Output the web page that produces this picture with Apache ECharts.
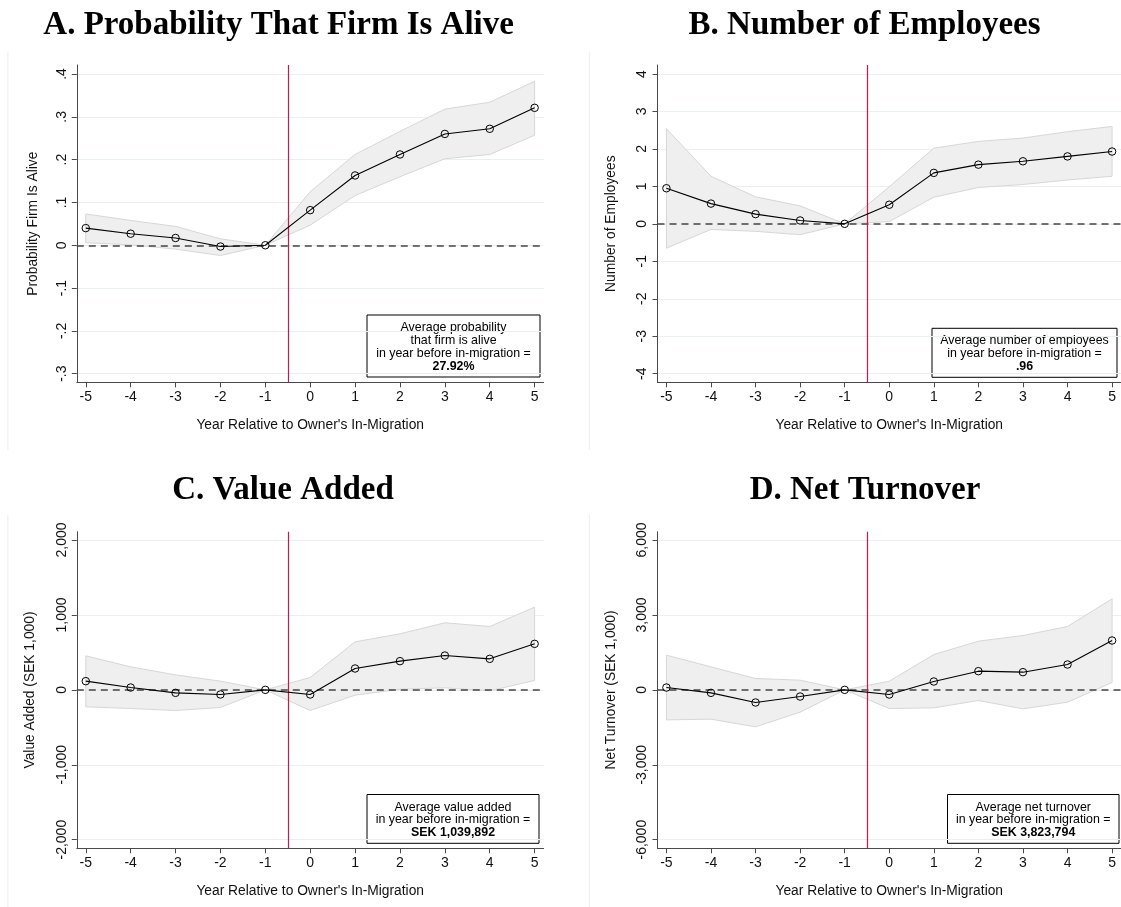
<!DOCTYPE html>
<html><head><meta charset="utf-8">
<script src="https://cdn.jsdelivr.net/npm/echarts@6/dist/echarts.min.js"></script>
<style>html,body{margin:0;padding:0;background:#fff}#c{width:1121px;height:907px}</style>
</head><body><div id="c"></div>
<script>
// ---------- data ----------
const years = [-5, -4, -3, -2, -1, 0, 1, 2, 3, 4, 5];
const xTickLabels = ['-5', '-4', '-3', '-2', '-1', '0', '1', '2', '3', '4', '5'];

const aliveEst = [0.040, 0.027, 0.017, -0.003, 0, 0.082, 0.163, 0.212, 0.260, 0.272, 0.321];
const aliveLo  = [0.006, 0.001, -0.009, -0.024, 0, 0.047, 0.116, 0.160, 0.202, 0.212, 0.257];
const aliveHi  = [0.073, 0.058, 0.044, 0.015, 0, 0.125, 0.212, 0.266, 0.318, 0.334, 0.383];

const empEst = [0.95, 0.54, 0.26, 0.09, 0, 0.51, 1.36, 1.58, 1.67, 1.80, 1.93];
const empLo  = [-0.65, -0.15, -0.20, -0.29, 0, 0.06, 0.71, 0.97, 1.05, 1.17, 1.27];
const empHi  = [2.54, 1.27, 0.72, 0.48, 0, 0.99, 2.02, 2.20, 2.29, 2.46, 2.60];

const vaEst = [116, 31, -40, -62, 0, -62, 285, 383, 458, 414, 614];
const vaLo  = [-227, -249, -276, -236, 0, -276, -71, 9, 27, -13, 125];
const vaHi  = [454, 307, 200, 116, 0, 165, 641, 748, 895, 846, 1104];

const ntEst = [93, -120, -507, -267, 0, -187, 334, 748, 708, 1015, 1976];
const ntLo  = [-1202, -1175, -1482, -895, 0, -748, -721, -427, -761, -494, 294];
const ntHi  = [1389, 921, 454, 387, 0, 347, 1415, 1949, 2176, 2537, 3645];

const yTicksA = [-0.3, -0.2, -0.1, 0, 0.1, 0.2, 0.3, 0.4];
const yLabelsA = ['-.3', '-.2', '-.1', '0', '.1', '.2', '.3', '.4'];
const yTicksB = [-4, -3, -2, -1, 0, 1, 2, 3, 4];
const yLabelsB = ['-4', '-3', '-2', '-1', '0', '1', '2', '3', '4'];
const yTicksC = [-2000, -1000, 0, 1000, 2000];
const yLabelsC = ['-2,000', '-1,000', '0', '1,000', '2,000'];
const yTicksD = [-6000, -3000, 0, 3000, 6000];
const yLabelsD = ['-6,000', '-3,000', '0', '3,000', '6,000'];

const zeroLine = 0;
const migrationLine = -0.5;

const titles = ['A. Probability That Firm Is Alive', 'B. Number of Employees', 'C. Value Added', 'D. Net Turnover'];
const yNames = ['Probability Firm Is Alive', 'Number of Employees', 'Value Added (SEK 1,000)', 'Net Turnover (SEK 1,000)'];
const xName = "Year Relative to Owner's In-Migration";
const boxTexts = [
  'Average probability\nthat firm is alive\nin year before in-migration =\n{b|27.92%}',
  'Average number of employees\nin year before in-migration =\n{b|.96}',
  'Average value added\nin year before in-migration =\n{b|SEK 1,039,892}',
  'Average net turnover\nin year before in-migration =\n{b|SEK 3,823,794}'
];

// ---------- layout ----------
const panels = [
  {est: aliveEst, lo: aliveLo, hi: aliveHi, ticks: yTicksA, labels: yLabelsA, yMin: -0.3201, yMax: 0.421,
   grid: {left: 76.8, top: 65, width: 466.8, height: 317.3}, nameGap: 37,
   titleX: 278.6, titleY: 25.5, box: [367, 315, 173, 62], edge: [7.9, 52, 450]},
  {est: empEst, lo: empLo, hi: empHi, ticks: yTicksB, labels: yLabelsB, yMin: -4.23, yMax: 4.24,
   grid: {left: 657.5, top: 65, width: 467.5, height: 317.3}, nameGap: 39.6,
   titleX: 864.6, titleY: 25.5, box: [932, 328.3, 185, 49], edge: [589.3, 52, 450]},
  {est: vaEst, lo: vaLo, hi: vaHi, ticks: yTicksC, labels: yLabelsC, yMin: -2115, yMax: 2111,
   grid: {left: 76.8, top: 531.7, width: 466.8, height: 316.6}, nameGap: 39.6,
   titleX: 283, titleY: 490.8, box: [367, 794.5, 172, 48.8], edge: [7.9, 515, 907]},
  {est: ntEst, lo: ntLo, hi: ntHi, ticks: yTicksD, labels: yLabelsD, yMin: -6345, yMax: 6333,
   grid: {left: 657.5, top: 531.7, width: 467.5, height: 316.6}, nameGap: 39.6,
   titleX: 865, titleY: 490.8, box: [947.5, 794.5, 171.5, 48.8], edge: [589.3, 515, 907]}
];

const SANS = "'Liberation Sans', Arial, sans-serif";
const SERIF = "'Liberation Serif', 'Times New Roman', serif";
const AXIS_COLOR = '#4a4a4a';
const TICK_FS = 14;
const NAME_FS = 13.8;
const BOX_FS = 12.4;
const BOX_LH = 12.8;

const option = {
  backgroundColor: '#fff',
  animation: false,
  grid: [], xAxis: [], yAxis: [], series: [], graphic: []
};

panels.forEach((p, i) => {
  option.grid.push(Object.assign({containLabel: false}, p.grid));
  option.xAxis.push({
    type: 'value', gridIndex: i, min: -5.2, max: 5.2,
    axisLine: {show: true, onZero: false, lineStyle: {color: AXIS_COLOR, width: 1}},
    axisTick: {show: true, length: 5, customValues: years, lineStyle: {color: AXIS_COLOR}},
    axisLabel: {customValues: years, margin: 8, fontSize: TICK_FS, color: '#111', fontFamily: SANS,
      formatter: v => xTickLabels[years.indexOf(Math.round(v))]},
    splitLine: {show: false},
    name: xName, nameLocation: 'middle', nameGap: 35.5,
    nameTextStyle: {fontSize: NAME_FS, color: '#111', fontFamily: SANS}
  });
  option.yAxis.push({
    type: 'value', gridIndex: i, min: p.yMin, max: p.yMax,
    axisLine: {show: true, onZero: false, lineStyle: {color: AXIS_COLOR, width: 1}},
    axisTick: {show: true, length: 5, customValues: p.ticks, lineStyle: {color: AXIS_COLOR}},
    axisLabel: {customValues: p.ticks, rotate: 90, margin: 8, fontSize: TICK_FS, color: '#111', fontFamily: SANS,
      formatter: v => {
        let k = 0, best = Infinity;
        p.ticks.forEach((t, j) => { const d = Math.abs(t - v); if (d < best) { best = d; k = j; } });
        return p.labels[k];
      }},
    splitLine: {show: true, lineStyle: {color: '#e8f0f0', width: 1}},
    name: yNames[i], nameLocation: 'middle', nameRotate: 90, nameGap: p.nameGap,
    nameTextStyle: {fontSize: NAME_FS, color: '#111', fontFamily: SANS}
  });

  // confidence band
  const bandData = years.map((y, j) => [y, p.lo[j], p.hi[j]]);
  option.series.push({
    type: 'custom', xAxisIndex: i, yAxisIndex: i, z: 1, silent: true,
    data: bandData,
    encode: {x: 0, y: [1, 2]},
    renderItem: (params, api) => {
      if (params.dataIndex !== 0) return null;
      const pts = [];
      for (let j = 0; j < years.length; j++) pts.push(api.coord([years[j], p.hi[j]]));
      for (let j = years.length - 1; j >= 0; j--) pts.push(api.coord([years[j], p.lo[j]]));
      return {type: 'polygon', shape: {points: pts},
        style: {fill: '#efefef', stroke: '#d7d7d7', lineWidth: 1}};
    },
    markLine: {
      silent: true, symbol: 'none', label: {show: false}, animation: false,
      data: [
        {yAxis: zeroLine, lineStyle: {type: [7, 5], color: '#444', width: 1.5}},
        {xAxis: migrationLine, lineStyle: {type: 'solid', color: '#c8174a', width: 1.2}}
      ]
    }
  });

  // point estimates
  option.series.push({
    type: 'line', xAxisIndex: i, yAxisIndex: i, z: 5,
    data: years.map((y, j) => [y, p.est[j]]),
    symbol: 'circle', symbolSize: 7.5,
    itemStyle: {color: 'rgba(0,0,0,0)', borderColor: '#000', borderWidth: 1},
    lineStyle: {color: '#000', width: 1.1},
    emphasis: {disabled: true}
  });

  // panel title
  option.graphic.push({
    type: 'text', z: 100, silent: true,
    style: {text: titles[i], x: p.titleX, y: p.titleY, textAlign: 'center', align: 'center',
      textVerticalAlign: 'middle', verticalAlign: 'middle',
      font: 'bold 33px ' + SERIF, fill: '#000'}
  });

  // faint graph-region edge
  option.graphic.push({
    type: 'line', z: 0, silent: true,
    shape: {x1: p.edge[0], y1: p.edge[1], x2: p.edge[0], y2: p.edge[2]},
    style: {stroke: '#ededed', lineWidth: 1}
  });

  // annotation box
  const [bx, by, bw, bh] = p.box;
  option.graphic.push({
    type: 'group', z: 100, silent: true,
    children: [
      {type: 'rect', shape: {x: bx, y: by, width: bw, height: bh},
       style: {fill: '#fff', stroke: '#000', lineWidth: 1}},
      {type: 'text', style: {
        text: boxTexts[i], x: bx + bw / 2, y: by + bh / 2 + 1,
        textAlign: 'center', align: 'center', textVerticalAlign: 'middle', verticalAlign: 'middle',
        fontSize: BOX_FS, lineHeight: BOX_LH, fontFamily: SANS, fill: '#000',
        rich: {b: {fontWeight: 'bold', fontSize: BOX_FS, lineHeight: BOX_LH, fontFamily: SANS, fill: '#000'}}
      }}
    ]
  });
});

const chart = echarts.init(document.getElementById('c'), null, {renderer: 'canvas'});
chart.setOption(option);
</script>
</body></html>
